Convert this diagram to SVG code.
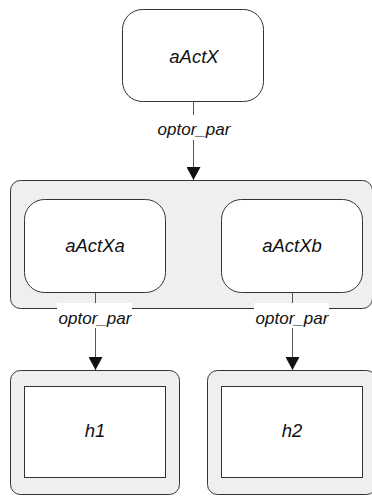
<svg xmlns="http://www.w3.org/2000/svg" width="372" height="496" viewBox="0 0 372 496">
<defs>
<style>
.node{fill:#fff;stroke:#333;stroke-width:1}
.grp{fill:#efefef;stroke:#333;stroke-width:1}
.t{font-family:"Liberation Sans",Arial,sans-serif;font-style:italic;font-size:18.5px;fill:#111;text-anchor:middle}
.lbl{font-family:"Liberation Sans",Arial,sans-serif;font-style:italic;font-size:17px;fill:#111;text-anchor:middle}
.edge{stroke:#555;stroke-width:1;fill:none}
.lblbg{fill:#fff}
</style>
<marker id="arr" markerWidth="14" markerHeight="14" refX="13" refY="7" orient="auto" markerUnits="userSpaceOnUse">
<path d="M0,0 L13,7 L0,14 Z" fill="#111"/>
</marker>
</defs>
<g id="container">
<rect class="grp" x="10.5" y="180.5" width="362" height="128" rx="10"/>
</g>
<g id="aActX">
<rect class="node" x="122.5" y="9.5" width="141" height="92" rx="20"/>
<text class="t" x="194" y="62.5">aActX</text>
</g>
<g id="aActXa">
<rect class="node" x="24.5" y="199.5" width="141" height="93" rx="20"/>
<text class="t" x="95" y="252">aActXa</text>
</g>
<g id="aActXb">
<rect class="node" x="221.5" y="199.5" width="141" height="93" rx="20"/>
<text class="t" x="292" y="252">aActXb</text>
</g>
<g id="h1">
<rect class="grp" x="10.5" y="370.5" width="169" height="124" rx="10"/>
<rect class="node" x="24.5" y="386.5" width="141" height="91"/>
<text class="t" x="95" y="436.5">h1</text>
</g>
<g id="h2">
<rect class="grp" x="207.5" y="370.5" width="169" height="124" rx="10"/>
<rect class="node" x="221.5" y="386.5" width="141" height="91"/>
<text class="t" x="292" y="436.5">h2</text>
</g>
<g id="connectors">
<line class="edge" x1="193.5" y1="101.5" x2="193.5" y2="180" marker-end="url(#arr)"/>
<rect class="lblbg" x="156" y="115" width="76" height="25"/>
<text class="lbl" x="194" y="135">optor_par</text>
<line class="edge" x1="95.5" y1="292.5" x2="95.5" y2="370" marker-end="url(#arr)"/>
<rect class="lblbg" x="57" y="303" width="75" height="25"/>
<text class="lbl" x="95" y="323.5">optor_par</text>
<line class="edge" x1="292.5" y1="292.5" x2="292.5" y2="370" marker-end="url(#arr)"/>
<rect class="lblbg" x="254" y="303" width="75" height="25"/>
<text class="lbl" x="292" y="323.5">optor_par</text>
</g>
</svg>
